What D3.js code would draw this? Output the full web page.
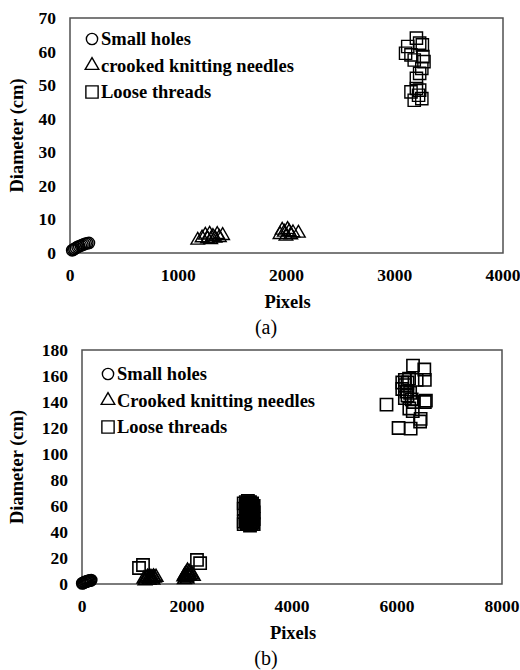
<!DOCTYPE html>
<meta charset="utf-8">
<script src="https://d3js.org/d3.v7.min.js"></script>
<style>
  body { margin: 0; background: #fff; }
</style>
<body>
<div id="chart"></div>
<script>

// panel (a)
var holesA = [[20,0.8],[30,1.0],[40,1.2],[55,1.5],[70,1.8],[85,2.0],[100,2.2],[115,2.4],[130,2.6],[145,2.8],[160,2.9],[175,3.0]]
var needlesA = [[1180,3.8],[1220,4.5],[1250,5.3],[1270,4.2],[1290,5.6],[1300,4.0],[1320,4.9],[1340,4.4],[1360,5.5],[1380,4.6],[1410,5.2],
                [1940,5.5],[1960,6.8],[1980,6.2],[1995,5.0],[2010,7.0],[2025,6.3],[2040,5.4],[2060,6.0],[2110,5.9]]
var threadsA = [[3120,61.5],[3100,59.5],[3150,59],[3200,64],[3230,62.5],[3255,62],[3180,57.5],[3260,58.5],[3270,57],[3230,53.5],
                [3250,55],[3200,52],[3150,48],[3200,49],[3230,48.5],[3250,46],[3180,45.5],[3220,47]]
var xTicksA = [0, 1000, 2000, 3000, 4000]
var yTicksA = [0, 10, 20, 30, 40, 50, 60, 70]
var legendA = ["Small holes", "crooked knitting needles", "Loose threads"]

// panel (b)
var holesB = [[5,0.5],[20,0.8],[40,1.2],[60,1.5],[80,1.8],[100,2.1],[120,2.4],[140,2.6],[160,2.8],[175,3.0]]
var needlesB = [[1180,3.8],[1200,2.5],[1220,4.5],[1250,5.3],[1270,4.2],[1280,2.8],[1290,5.6],[1300,4.0],[1320,4.9],[1340,4.4],[1350,3.0],
                [1360,5.5],[1380,4.6],[1410,5.2],
                [1940,5.5],[1950,3.5],[1960,6.8],[1980,6.2],[1990,8.5],[1995,5.0],[2000,3.8],[2010,10],[2025,6.3],[2040,9],
                [2060,6.0],[2090,7.5],[2120,6]]
var threadsB = [[1086,12.3],[1162,14.6],[2190,18.5],[2250,16],
                [3080,62],[3080,58],[3080,48],[3080,46],[3120,63],[3120,60],[3120,57],[3120,54],[3120,51],[3120,48],
                [3140,61.5],[3140,58.5],[3140,55.5],[3140,52.5],[3140,49.5],[3140,46.5],
                [3160,64],[3160,61],[3160,58],[3160,55],[3160,52],[3160,49],[3160,46],
                [3180,62.5],[3180,59.5],[3180,56.5],[3180,53.5],[3180,50.5],[3180,47.5],
                [3200,63],[3200,60],[3200,57],[3200,54],[3200,51],[3200,48],[3200,45],
                [3220,61.5],[3220,58.5],[3220,55.5],[3220,52.5],[3220,49.5],[3220,46.5],
                [3240,62],[3240,59],[3240,56],[3240,53],[3240,50],[3240,47],
                [3270,60],[3270,55],[3270,50],[3270,46],
                [5800,138],[6030,120],[6260,119.5],[6440,125],[6450,127],[6235,135],[6300,133],[6150,143],[6200,145],
                [6280,142],[6320,140],[6530,140],[6550,141],[6100,150],[6150,153],[6150,157],[6200,155],[6230,158],
                [6100,155],[6375,157],[6530,157],[6305,168],[6520,165],[6250,147],[6180,148]]
var xTicksB = [0, 2000, 4000, 6000, 8000]
var yTicksB = [0, 20, 40, 60, 80, 100, 120, 140, 160, 180]
var legendB = ["Small holes", "Crooked knitting needles", "Loose threads"]

var serif = "'Liberation Serif', 'Times New Roman', serif"

var svg = d3.select("#chart").append("svg")
    .attr("width", 520)
    .attr("height", 670)

var shapes = [d3.symbolCircle, d3.symbolTriangle, d3.symbolSquare]
var sizes = [100, 80, 150]

function panel(p) {
  var x = d3.scaleLinear().domain([0, p.xMax]).range([p.left, p.right])
  var y = d3.scaleLinear().domain([0, p.yMax]).range([p.bottom, p.top])
  var g = svg.append("g")

  g.append("rect")
    .attr("x", p.left).attr("y", p.top)
    .attr("width", p.right - p.left).attr("height", p.bottom - p.top)
    .attr("fill", "none").attr("stroke", "#505050").attr("stroke-width", 1.5)

  g.selectAll(".xt").data(p.xTicks).enter().append("text")
    .attr("x", function(d) { return x(d) })
    .attr("y", p.bottom + 28)
    .attr("text-anchor", "middle")
    .style("font-family", serif)
    .style("font-size", "17.5px").style("font-weight", "bold")
    .text(function(d) { return d })

  g.selectAll(".yt").data(p.yTicks).enter().append("text")
    .attr("x", p.left - 14)
    .attr("y", function(d) { return y(d) + 6 })
    .attr("text-anchor", "end")
    .style("font-family", serif)
    .style("font-size", "17.5px").style("font-weight", "bold")
    .text(function(d) { return d })

  g.append("text")
    .attr("x", (p.left + p.right) / 2 + 1)
    .attr("y", p.bottom + 55)
    .attr("text-anchor", "middle")
    .style("font-family", serif)
    .style("font-size", "18.5px").style("font-weight", "bold")
    .text("Pixels")

  g.append("text")
    .attr("transform", "translate(23," + ((p.top + p.bottom) / 2) + ") rotate(-90)")
    .attr("text-anchor", "middle")
    .style("font-family", serif)
    .style("font-size", "18.5px").style("font-weight", "bold")
    .text("Diameter (cm)")

  g.append("text")
    .attr("x", 266)
    .attr("y", p.bottom + 81)
    .attr("text-anchor", "middle")
    .style("font-family", serif)
    .style("font-size", "20px")
    .text(p.label)

  var series = [p.holes, p.needles, p.threads]
  series.forEach(function(s, i) {
    g.selectAll(".s" + i).data(s).enter().append("path")
      .attr("transform", function(d) { return "translate(" + x(d[0]) + "," + y(d[1]) + ")" })
      .attr("d", d3.symbol().type(shapes[i]).size(sizes[i]))
      .attr("fill", "none")
      .attr("stroke", "#000")
      .attr("stroke-width", p.stroke)
  })

  p.legend.forEach(function(name, i) {
    var ly = p.legendTop + i * p.legendStep
    g.append("path")
      .attr("transform", "translate(" + p.legendX + "," + ly + ")")
      .attr("d", d3.symbol().type(shapes[i]).size(sizes[i]))
      .attr("fill", "none").attr("stroke", "#000").attr("stroke-width", 1.4)
    g.append("text")
      .attr("x", p.legendX + 9)
      .attr("y", ly + 6)
      .style("font-family", serif)
      .style("font-size", "18.5px").style("font-weight", "bold")
      .text(name)
  })
}

panel({left: 70, right: 503, top: 18, bottom: 253, xMax: 4000, yMax: 70, stroke: 1.4,
       xTicks: xTicksA, yTicks: yTicksA, holes: holesA, needles: needlesA, threads: threadsA,
       legend: legendA, legendX: 92, legendTop: 39, legendStep: 26.5, label: "(a)"})

panel({left: 82, right: 502, top: 350, bottom: 584, xMax: 8000, yMax: 180, stroke: 1.6,
       xTicks: xTicksB, yTicks: yTicksB, holes: holesB, needles: needlesB, threads: threadsB,
       legend: legendB, legendX: 108, legendTop: 374, legendStep: 26.5, label: "(b)"})

</script>
</body>
